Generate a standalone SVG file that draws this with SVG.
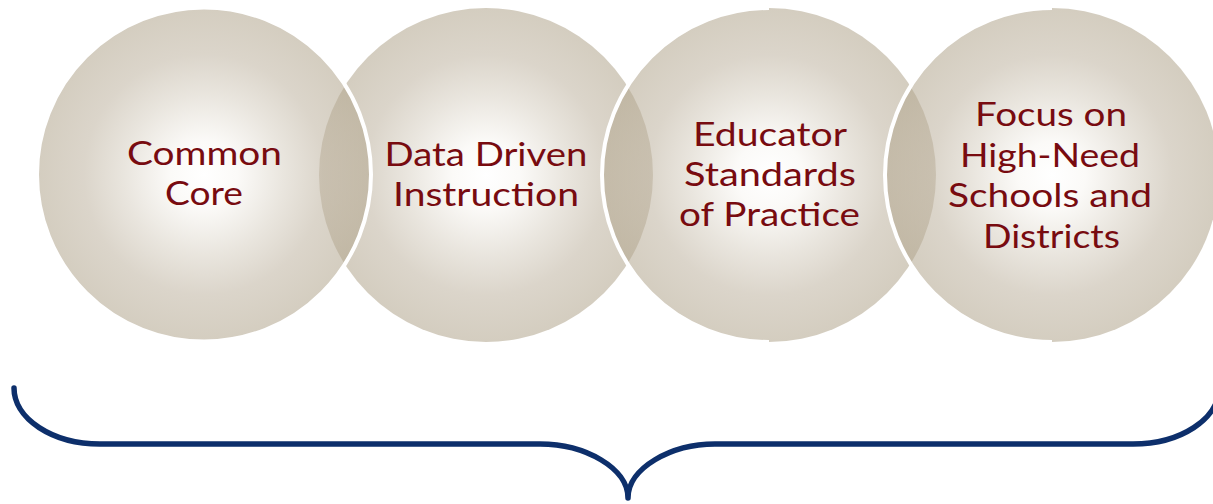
<svg xmlns="http://www.w3.org/2000/svg" width="1213" height="504" viewBox="0 0 1213 504">
  <defs>
    <radialGradient id="ball" cx="0.5" cy="0.5" r="0.5">
      <stop offset="0" stop-color="#ffffff"/>
      <stop offset="0.2" stop-color="#f8f6f2"/>
      <stop offset="0.48" stop-color="#d8d1c4"/>
      <stop offset="0.72" stop-color="#bfb4a1"/>
      <stop offset="1" stop-color="#b2a68e"/>
    </radialGradient>
  </defs>
  <style>
    .ball { fill: url(#ball); fill-opacity: 0.56; }
    .rim { fill: none; stroke: #ffffff; stroke-width: 4; }
    .lbl { font-family: Lato, "Liberation Sans", sans-serif; font-size: 33px; fill: #780b10; text-anchor: middle; }
    .brace { fill: none; stroke: #0d2f6b; stroke-width: 5.5; stroke-linecap: round; stroke-linejoin: round; }
  </style>

  <g id="node-data-driven">
    <circle class="ball" cx="486" cy="175" r="167"/>
    <text class="lbl"><tspan x="486" y="166" textLength="203" lengthAdjust="spacingAndGlyphs">Data Driven</tspan><tspan x="486" y="206" textLength="186" lengthAdjust="spacingAndGlyphs">Instruction</tspan></text>
  </g>

  <g id="node-common-core">
    <circle class="ball" cx="204" cy="174.5" r="167"/>
    <circle class="rim" cx="204" cy="174.5" r="167"/>
    <text class="lbl"><tspan x="204.5" y="164.5" textLength="155" lengthAdjust="spacingAndGlyphs">Common</tspan><tspan x="204" y="204.5" textLength="78" lengthAdjust="spacingAndGlyphs">Core</tspan></text>
  </g>

  <g id="node-educator-standards">
    <circle class="ball" cx="769" cy="175" r="167"/>
    <path class="rim" d="M769,8 A167,167 0 0 0 769,342"/>
    <text class="lbl"><tspan x="770" y="145.5" textLength="154" lengthAdjust="spacingAndGlyphs">Educator</tspan><tspan x="770" y="185.5" textLength="172" lengthAdjust="spacingAndGlyphs">Standards</tspan><tspan x="769.5" y="226" textLength="181" lengthAdjust="spacingAndGlyphs">of Practice</tspan></text>
  </g>

  <g id="node-high-need">
    <circle class="ball" cx="1052" cy="175" r="167"/>
    <path class="rim" d="M1052,8 A167,167 0 0 0 1052,342"/>
    <text class="lbl"><tspan x="1051" y="126" textLength="152" lengthAdjust="spacingAndGlyphs">Focus on</tspan><tspan x="1050" y="166.5" textLength="180" lengthAdjust="spacingAndGlyphs">High-Need</tspan><tspan x="1050" y="207" textLength="204" lengthAdjust="spacingAndGlyphs">Schools and</tspan><tspan x="1051.5" y="247.5" textLength="137" lengthAdjust="spacingAndGlyphs">Districts</tspan></text>
  </g>

  <g id="brace">
    <path class="brace" d="M14,388 A86,56 0 0 0 100,444 L540,444 C585,444 628,468 628,498 C628,468 671,444 715,444 L1133,444 A86,56 0 0 0 1219,388"/>
  </g>
</svg>
